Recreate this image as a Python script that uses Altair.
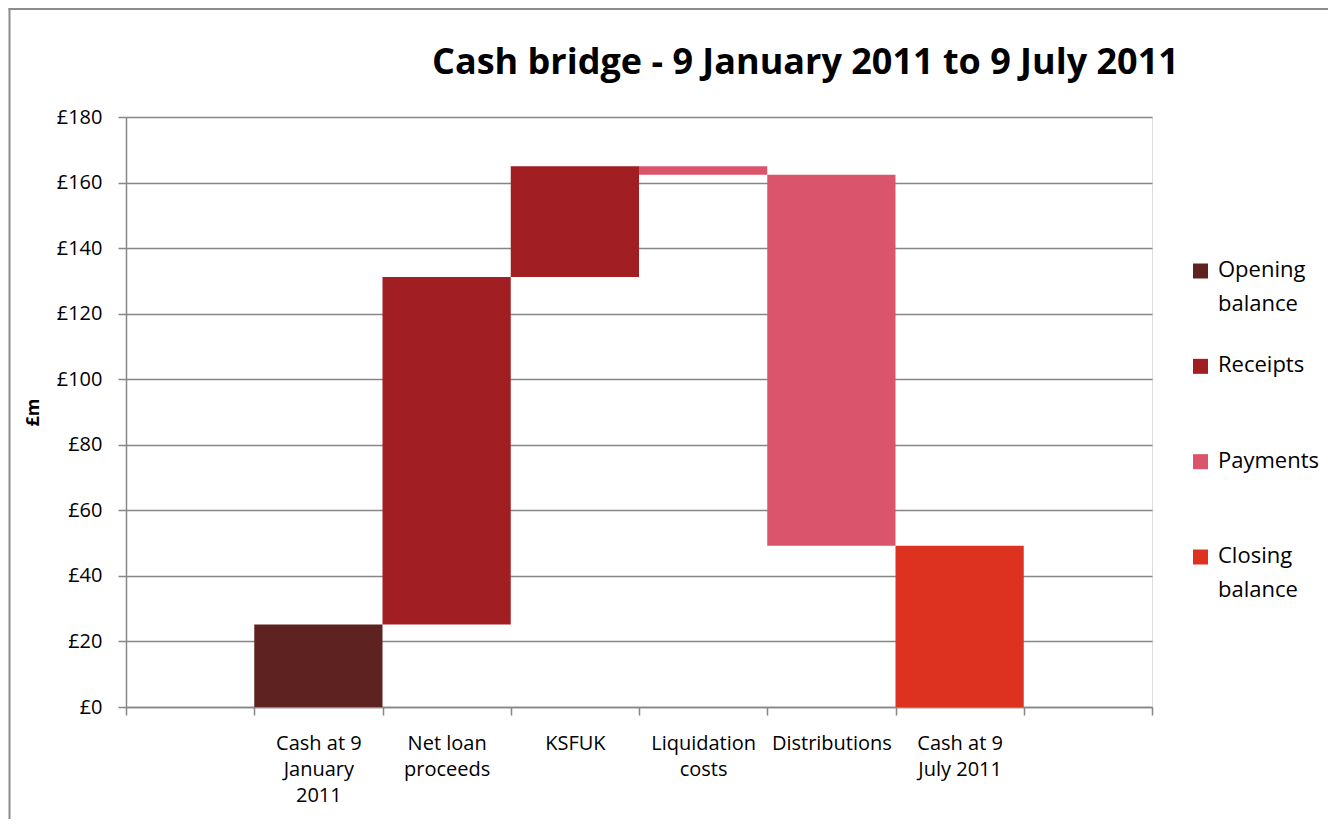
import altair as alt
import pandas as pd

# ---- data ----
categories = [
    "Cash at 9|January|2011",
    "Net loan|proceeds",
    "KSFUK",
    "Liquidation|costs",
    "Distributions",
    "Cash at 9|July 2011",
]
amounts = [25.2, 106.0, 33.8, -2.6, -113.2]   # opening balance, then movements
kinds = ["Opening balance", "Receipts", "Receipts", "Payments", "Payments", "Closing balance"]

legend_names = ["Opening balance", "Receipts", "Payments", "Closing balance"]
legend_labels = ["Opening\nbalance", "Receipts", "Payments", "Closing\nbalance"]
legend_colors = ["#5E2320", "#A11F22", "#DA546B", "#DE3220"]
y_ticks = [0, 20, 40, 60, 80, 100, 120, 140, 160, 180]

title_text = "Cash bridge - 9 January 2011 to 9 July 2011"

# ---- waterfall table ----
starts, ends = [], []
running = 0.0
for a in amounts:
    starts.append(running)
    running += a
    ends.append(running)
starts.append(0.0)
ends.append(running)
bars = pd.DataFrame({"cat": categories, "start": starts, "end": ends, "kind": kinds})

x_domain = [" "] + categories + ["  "]
FONT = "Open Sans"
GRAY = "#868686"

color_scale = alt.Scale(domain=legend_names, range=legend_colors)

bar_layer = alt.Chart(bars).mark_bar(opacity=1).encode(
    x=alt.X(
        "cat:N",
        scale=alt.Scale(domain=x_domain, paddingInner=0, paddingOuter=0),
        sort=x_domain,
        axis=alt.Axis(
            title=None,
            labelAngle=0,
            labelExpr="isValid(datum.value) ? split(datum.value, '|') : ''",
            labelFont=FONT,
            labelFontSize=20,
            labelColor="#000000",
            labelLineHeight=26,
            labelPadding=18,
            labelLimit=300,
            tickBand="extent",
            tickSize=8,
            tickColor=GRAY,
            tickWidth=1.5,
            domainColor=GRAY,
            domainWidth=1.5,
            grid=False,
        ),
    ),
    y=alt.Y(
        "start:Q",
        scale=alt.Scale(domain=[0, 180], nice=False, zero=True),
        axis=alt.Axis(
            title="£m",
            titleFont=FONT,
            titleFontSize=18,
            titleFontWeight="bold",
            titleColor="#000000",
            titleAngle=-90,
            titleX=-93,
            titleY=295,
            titleAlign="center",
            titleBaseline="middle",
            values=y_ticks,
            labelExpr="'£' + datum.value",
            labelFont=FONT,
            labelFontSize=20,
            labelColor="#000000",
            labelPadding=16,
            tickSize=8,
            tickColor=GRAY,
            tickWidth=1.5,
            domainColor=GRAY,
            domainWidth=1.5,
            grid=True,
            gridColor=GRAY,
            gridWidth=1.5,
        ),
    ),
    y2="end:Q",
    color=alt.Color("kind:N", scale=color_scale, legend=None),
)

# ---- legend drawn as its own small layer ----
leg = pd.DataFrame({
    "name": legend_names,
    "label": legend_labels,
    "pos": [0, 1, 2, 3],
})
leg_y = alt.Y("pos:Q", scale=alt.Scale(domain=[0, 3], range=[154, 440]), axis=None)

leg_sym = alt.Chart(leg).mark_square(size=225, opacity=1).encode(
    x=alt.value(1074.5),
    y=leg_y,
    color=alt.Color("name:N", scale=color_scale, legend=None),
)
leg_txt = alt.Chart(leg).mark_text(
    align="left", baseline="top", dy=-11, lineBreak="\n", lineHeight=34,
    font=FONT, fontSize=22, color="#000000",
).encode(
    x=alt.value(1092),
    y=leg_y,
    text="label:N",
)

# ---- chart title ----
title_df = pd.DataFrame({"t": [title_text]})
title_layer = alt.Chart(title_df).mark_text(
    align="left", baseline="alphabetic", font=FONT, fontSize=36,
    fontWeight="bold", color="#000000",
).encode(x=alt.value(306), y=alt.value(-43), text="t:N")

# ---- outer frame of the chart area ----
frame_df = pd.DataFrame({"k": [0]})
frame_left = alt.Chart(frame_df).mark_rule(color="#8C8C8C", strokeWidth=2).encode(
    x=alt.value(-116.5), y=alt.value(-110), y2=alt.value(720)
)
frame_top = alt.Chart(frame_df).mark_rule(color="#8C8C8C", strokeWidth=2).encode(
    x=alt.value(-117.5), x2=alt.value(1210), y=alt.value(-108)
)

chart = alt.layer(
    bar_layer, leg_sym, leg_txt, title_layer, frame_left, frame_top
).resolve_scale(
    y="independent"
).properties(
    width=1026,
    height=590,
    autosize=alt.AutoSizeParams(type="none"),
    padding={"left": 118, "top": 109, "right": 176, "bottom": 112},
).configure_view(stroke=None).configure(background="#FFFFFF")

chart.save("out.html", embed_options={"renderer": "svg", "actions": False})
